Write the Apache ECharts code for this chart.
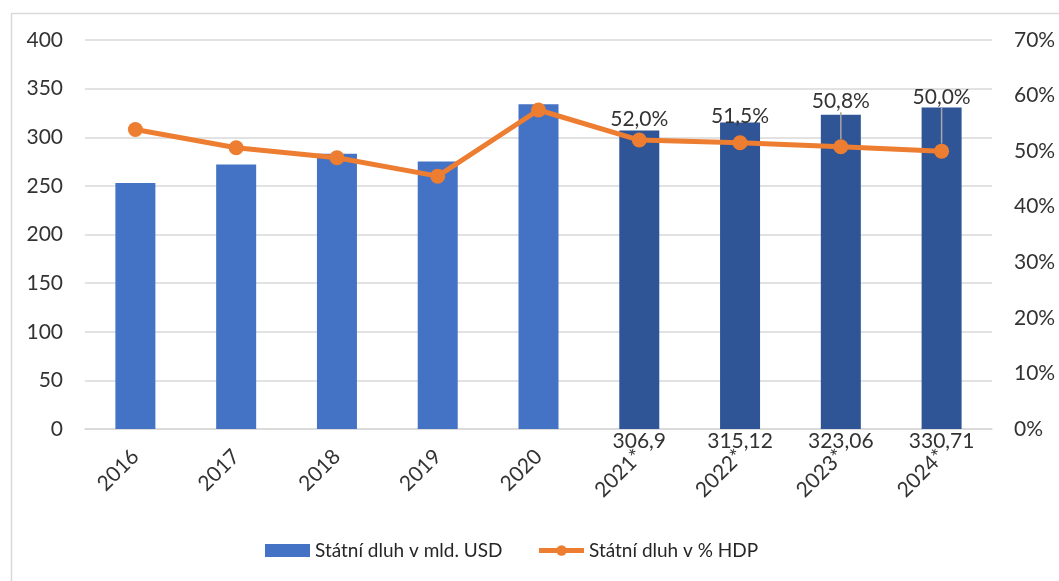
<!DOCTYPE html>
<html>
<head>
<meta charset="utf-8">
<script src="https://cdn.jsdelivr.net/npm/echarts@6/dist/echarts.min.js"></script>
<style>
  html, body { margin: 0; padding: 0; background: #fff; }
  #chart { width: 1059px; height: 581px; }
</style>
</head>
<body>
<div id="chart"></div>
<script>
// roky, hvězdička = odhad
var years = ['2016', '2017', '2018', '2019', '2020', '2021*', '2022*', '2023*', '2024*'];
var debtUsd = [253, 272, 283, 275, 334, 306.9, 315.12, 323.06, 330.71];
var debtPct = [53.9, 50.6, 48.8, 45.5, 57.4, 52.0, 51.5, 50.8, 50.0];
var usdTicks = [0, 50, 100, 150, 200, 250, 300, 350, 400];
var pctTicks = [0, 10, 20, 30, 40, 50, 60, 70];

var font = 'Lato, "Noto Sans", sans-serif';
var txt = '#333333';

var chart = echarts.init(document.getElementById('chart'));

// posun popisků u posledních bodů (v px)
var labelShift = [0, 0, 0, 0, 0, 0, -6, -24, -33];

var option = {
    animation: false,
    textStyle: { fontFamily: font },
    graphic: [{
        type: 'rect',
        left: 9, top: 11,
        shape: { width: 1200, height: 700 },
        style: { fill: 'none', stroke: '#d9d9d9', lineWidth: 1.5 },
        z: -1
    }],
    grid: { left: 85, right: 67, top: 40, bottom: 152 },
    legend: {
        left: 260,
        top: 536,
        itemGap: 34,
        itemWidth: 45,
        itemHeight: 13,
        textStyle: { fontFamily: font, fontSize: 19, color: '#262626' },
        data: [
            { name: 'Státní dluh v mld. USD', icon: 'rect', itemStyle: { color: '#4472c4' } },
            { name: 'Státní dluh v % HDP', lineStyle: { width: 5 } }
        ]
    },
    xAxis: {
        type: 'category',
        data: years,
        axisTick: { show: false },
        axisLine: { lineStyle: { color: '#d9d9d9', width: 1.5 } },
        axisLabel: {
            rotate: 45,
            margin: 24,
            interval: 0,
            fontSize: 21,
            fontFamily: font,
            color: txt
        }
    },
    yAxis: [{
        type: 'value',
        min: usdTicks[0],
        max: usdTicks[usdTicks.length - 1],
        interval: usdTicks[1] - usdTicks[0],
        axisLine: { show: false },
        axisTick: { show: false },
        splitLine: { lineStyle: { color: '#d9d9d9', width: 1.5 } },
        axisLabel: { margin: 22, fontSize: 21, fontFamily: font, color: txt }
    }, {
        type: 'value',
        min: pctTicks[0],
        max: pctTicks[pctTicks.length - 1],
        interval: pctTicks[1] - pctTicks[0],
        axisLine: { show: false },
        axisTick: { show: false },
        splitLine: { show: false },
        axisLabel: { margin: 22, fontSize: 21, fontFamily: font, color: txt, formatter: '{value}%' }
    }],
    series: [{
        name: 'Státní dluh v mld. USD',
        type: 'bar',
        barWidth: 40,
        data: debtUsd,
        itemStyle: {
            color: function (p) {
                return years[p.dataIndex].indexOf('*') >= 0 ? '#2f5597' : '#4472c4';
            }
        },
        label: {
            show: true,
            position: 'bottom',
            distance: 2,
            fontSize: 21,
            fontFamily: font,
            color: txt,
            formatter: function (p) {
                if (years[p.dataIndex].indexOf('*') < 0) return '';
                return String(p.value).replace('.', ',');
            }
        },
        z: 2
    }, {
        name: 'Státní dluh v % HDP',
        type: 'line',
        yAxisIndex: 1,
        data: debtPct.map(function (v, i) {
            return { value: v, labelLine: { show: labelShift[i] < -10 } };
        }),
        symbol: 'circle',
        symbolSize: 15,
        lineStyle: { color: '#ed7d31', width: 5 },
        itemStyle: { color: '#ed7d31' },
        label: {
            show: true,
            position: 'top',
            distance: 3,
            fontSize: 21,
            fontFamily: font,
            color: txt,
            formatter: function (p) {
                if (years[p.dataIndex].indexOf('*') < 0) return '';
                return p.value.toFixed(1).replace('.', ',') + '%';
            }
        },
        labelLine: { lineStyle: { color: '#a6a6a6', width: 1.5 } },
        labelLayout: function (p) {
            return { dy: labelShift[p.dataIndex] };
        },
        z: 3
    }]
};

chart.setOption(option);
</script>
</body>
</html>
